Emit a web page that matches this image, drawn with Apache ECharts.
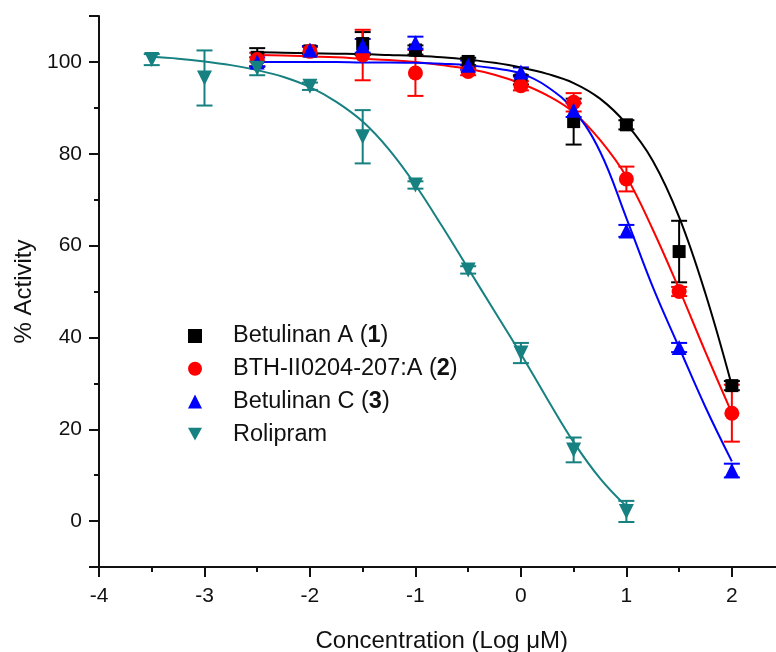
<!DOCTYPE html>
<html><head><meta charset="utf-8">
<script src="https://cdn.jsdelivr.net/npm/echarts@6/dist/echarts.min.js"></script>
<style>html,body{margin:0;padding:0;background:#fff}#c{width:776px;height:652px}</style>
</head><body><div id="c"></div>
<script>
// ---- data ----
const compoundX = [-2.5, -2, -1.5, -1, -0.5, 0, 0.5, 1, 1.5, 2];
const rolipramX = [-3.5, -3, -2.5, -2, -1.5, -1, -0.5, 0, 0.5, 1];

const betulinanA    = [101, 102.4, 104, 102.6, 100.1, 96.1, 87, 86.3, 58.7, 29.5];
const betulinanAErr = [2, 1, 2.5, 1, 0.8, 1, 5, 1, 6.7, 1];
const bth           = [100.5, 102.3, 101.5, 97.6, 97.9, 94.8, 91.2, 74.5, 50, 23.5];
const bthErr        = [1.5, 1, 5.5, 5, 0.8, 1, 2, 2.7, 1, 6.2];
const betulinanC    = [100, 102.6, 103.5, 104.2, 99.3, 97.8, 89.5, 63.2, 37.8, 11];
const betulinanCErr = [1, 0.8, 1.5, 1.3, 1, 1, 1.5, 1.3, 1, 1.5];
const rolipram      = [100.5, 96.5, 98.6, 94.7, 83.7, 73.2, 54.7, 36.6, 15.5, 2.1];
const rolipramErr   = [1.2, 6, 1.5, 0.8, 5.8, 0.8, 0.8, 2.2, 2.7, 2.3];

// fitted curves
const curveCompX  = [-2.5, -2.25, -2, -1.75, -1.5, -1.25, -1, -0.75, -0.5, -0.25, 0, 0.25, 0.5, 0.75, 1, 1.25, 1.5, 1.75, 2];
const curveA      = [102.1, 102.0, 101.9, 101.8, 101.7, 101.5, 101.3, 101.0, 100.5, 99.8, 98.8, 97.4, 95.4, 92.0, 86.5, 78.5, 66.2, 49.5, 29.5];
const curveBTH    = [101.5, 101.4, 101.2, 101.0, 100.7, 100.4, 100.0, 99.3, 98.5, 97.2, 95.3, 92.7, 89.0, 83.0, 75.0, 63.5, 50.5, 36.8, 23.5];
const curveC      = [100.0, 100.0, 100.0, 100.0, 99.9, 99.9, 99.8, 99.6, 99.3, 98.6, 97.5, 94.6, 89.5, 80.5, 66.0, 51.0, 37.8, 24.8, 13.0];
const curveRolX   = [-3.5, -3.25, -3, -2.75, -2.5, -2.25, -2, -1.75, -1.5, -1.25, -1, -0.75, -0.5, -0.25, 0, 0.25, 0.5, 0.75, 1];
const curveRol    = [101.1, 100.7, 100.1, 99.3, 98.2, 96.7, 94.5, 91.3, 87.0, 80.9, 73.2, 64.3, 55.0, 45.7, 36.4, 26.6, 17.2, 9.3, 3.2];

const names = ['Betulinan A (1)', 'BTH-II0204-207:A (2)', 'Betulinan C (3)', 'Rolipram'];
const colors = ['#000000', '#ff0000', '#0000ff', '#178080'];

// ---- build ----
const FONT = '"Liberation Sans", Arial, sans-serif';
const AX = '#111';
const X_MIN = -4, X_MAX = 2.5, Y_MIN = -10, Y_MAX = 110;
function zip(xs, ys) { return xs.map((x, i) => [x, ys[i]]); }
function zip3(xs, ys, es) { return xs.map((x, i) => [x, ys[i], es[i]]); }

function errSeries(data, color) {
  return {
    type: 'custom', z: 2, silent: true,
    data: data,
    encode: { x: 0, y: 1 },
    renderItem: function (params, api) {
      const x = api.value(0), y = api.value(1), e = api.value(2);
      const t = api.coord([x, y + e]);
      const b = api.coord([x, y - e]);
      const w = 8;
      const st = { stroke: color, lineWidth: 2, fill: null };
      return { type: 'group', children: [
        { type: 'line', shape: { x1: t[0], y1: t[1], x2: b[0], y2: b[1] }, style: st },
        { type: 'line', shape: { x1: t[0] - w, y1: t[1], x2: t[0] + w, y2: t[1] }, style: st },
        { type: 'line', shape: { x1: b[0] - w, y1: b[1], x2: b[0] + w, y2: b[1] }, style: st }
      ]};
    }
  };
}
function curveSeries(xs, ys, color) {
  return { type: 'line', z: 3, silent: true, data: zip(xs, ys), smooth: 0.4, showSymbol: false,
    lineStyle: { color: color, width: 2 }, itemStyle: { color: color } };
}
function markSeries(name, xs, ys, color, symbol, size, rot) {
  return { type: 'scatter', name: name, z: 5, data: zip(xs, ys), symbol: symbol, symbolSize: size,
    symbolRotate: rot || 0, itemStyle: { color: color, opacity: 1 } };
}

const downTri = 'path://M0,0 L10,0 L5,9 Z';

const option = {
  animation: false,
  backgroundColor: '#ffffff',
  grid: { left: 99, right: -8.6, top: 16, bottom: 85, containLabel: false, outerBoundsMode: 'none' },
  xAxis: {
    type: 'value', min: X_MIN, max: X_MAX, interval: 1,
    name: 'Concentration (Log \u03bcM)', nameLocation: 'middle', nameGap: 62,
    nameTextStyle: { fontFamily: FONT, fontSize: 24, color: AX },
    axisLine: { show: true, onZero: false, lineStyle: { color: AX, width: 2 } },
    axisTick: { show: true, inside: false, length: 10, lineStyle: { color: AX, width: 2 } },
    minorTick: { show: true, splitNumber: 2, length: 5, lineStyle: { color: AX, width: 2 } },
    axisLabel: { show: true, showMinLabel: true, showMaxLabel: false, margin: 19, fontFamily: FONT, fontSize: 21, color: AX },
    splitLine: { show: false }, minorSplitLine: { show: false }
  },
  yAxis: {
    type: 'value', min: Y_MIN, max: Y_MAX, splitNumber: 6,
    name: '% Activity', nameLocation: 'middle', nameGap: 61, nameRotate: 90,
    nameTextStyle: { fontFamily: FONT, fontSize: 24, color: AX },
    axisLine: { show: true, onZero: false, lineStyle: { color: AX, width: 2 } },
    axisTick: { show: true, inside: false, length: 10, lineStyle: { color: AX, width: 2 } },
    minorTick: { show: true, splitNumber: 2, length: 5, lineStyle: { color: AX, width: 2 } },
    axisLabel: { show: true, showMinLabel: false, showMaxLabel: false, margin: 17, fontFamily: FONT, fontSize: 21, color: AX },
    splitLine: { show: false }, minorSplitLine: { show: false }
  },
  legend: {
    orient: 'vertical', left: 183, top: 319, itemGap: 8.7,
    itemWidth: 14, itemHeight: 14,
    selectedMode: false,
    data: [
      { name: names[0], icon: 'rect' },
      { name: names[1], icon: 'circle' },
      { name: names[2], icon: 'triangle' },
      { name: names[3], icon: downTri }
    ],
    formatter: function (n) {
      return n.replace(/\((\d)\)/, '({b|$1})');
    },
    textStyle: {
      fontFamily: FONT, fontSize: 23.5, color: AX, lineHeight: 24, padding: [0, 0, 0, 26],
      rich: { b: { fontFamily: FONT, fontSize: 23.5, fontWeight: 'bold', color: AX, lineHeight: 24 } }
    }
  },
  series: [
    errSeries(zip3(compoundX, betulinanA, betulinanAErr), colors[0]),
    errSeries(zip3(compoundX, bth, bthErr), colors[1]),
    errSeries(zip3(compoundX, betulinanC, betulinanCErr), colors[2]),
    errSeries(zip3(rolipramX, rolipram, rolipramErr), colors[3]),
    curveSeries(curveCompX, curveA, colors[0]),
    curveSeries(curveCompX, curveBTH, colors[1]),
    curveSeries(curveCompX, curveC, colors[2]),
    curveSeries(curveRolX, curveRol, colors[3]),
    markSeries(names[0], compoundX, betulinanA, colors[0], 'rect', 13),
    markSeries(names[1], compoundX, bth, colors[1], 'circle', 15),
    markSeries(names[2], compoundX, betulinanC, colors[2], 'triangle', 15),
    markSeries(names[3], rolipramX, rolipram, colors[3], 'triangle', 15, 180)
  ]
};
const chart = echarts.init(document.getElementById('c'), null, { renderer: 'canvas' });
chart.setOption(option);
</script></body></html>
